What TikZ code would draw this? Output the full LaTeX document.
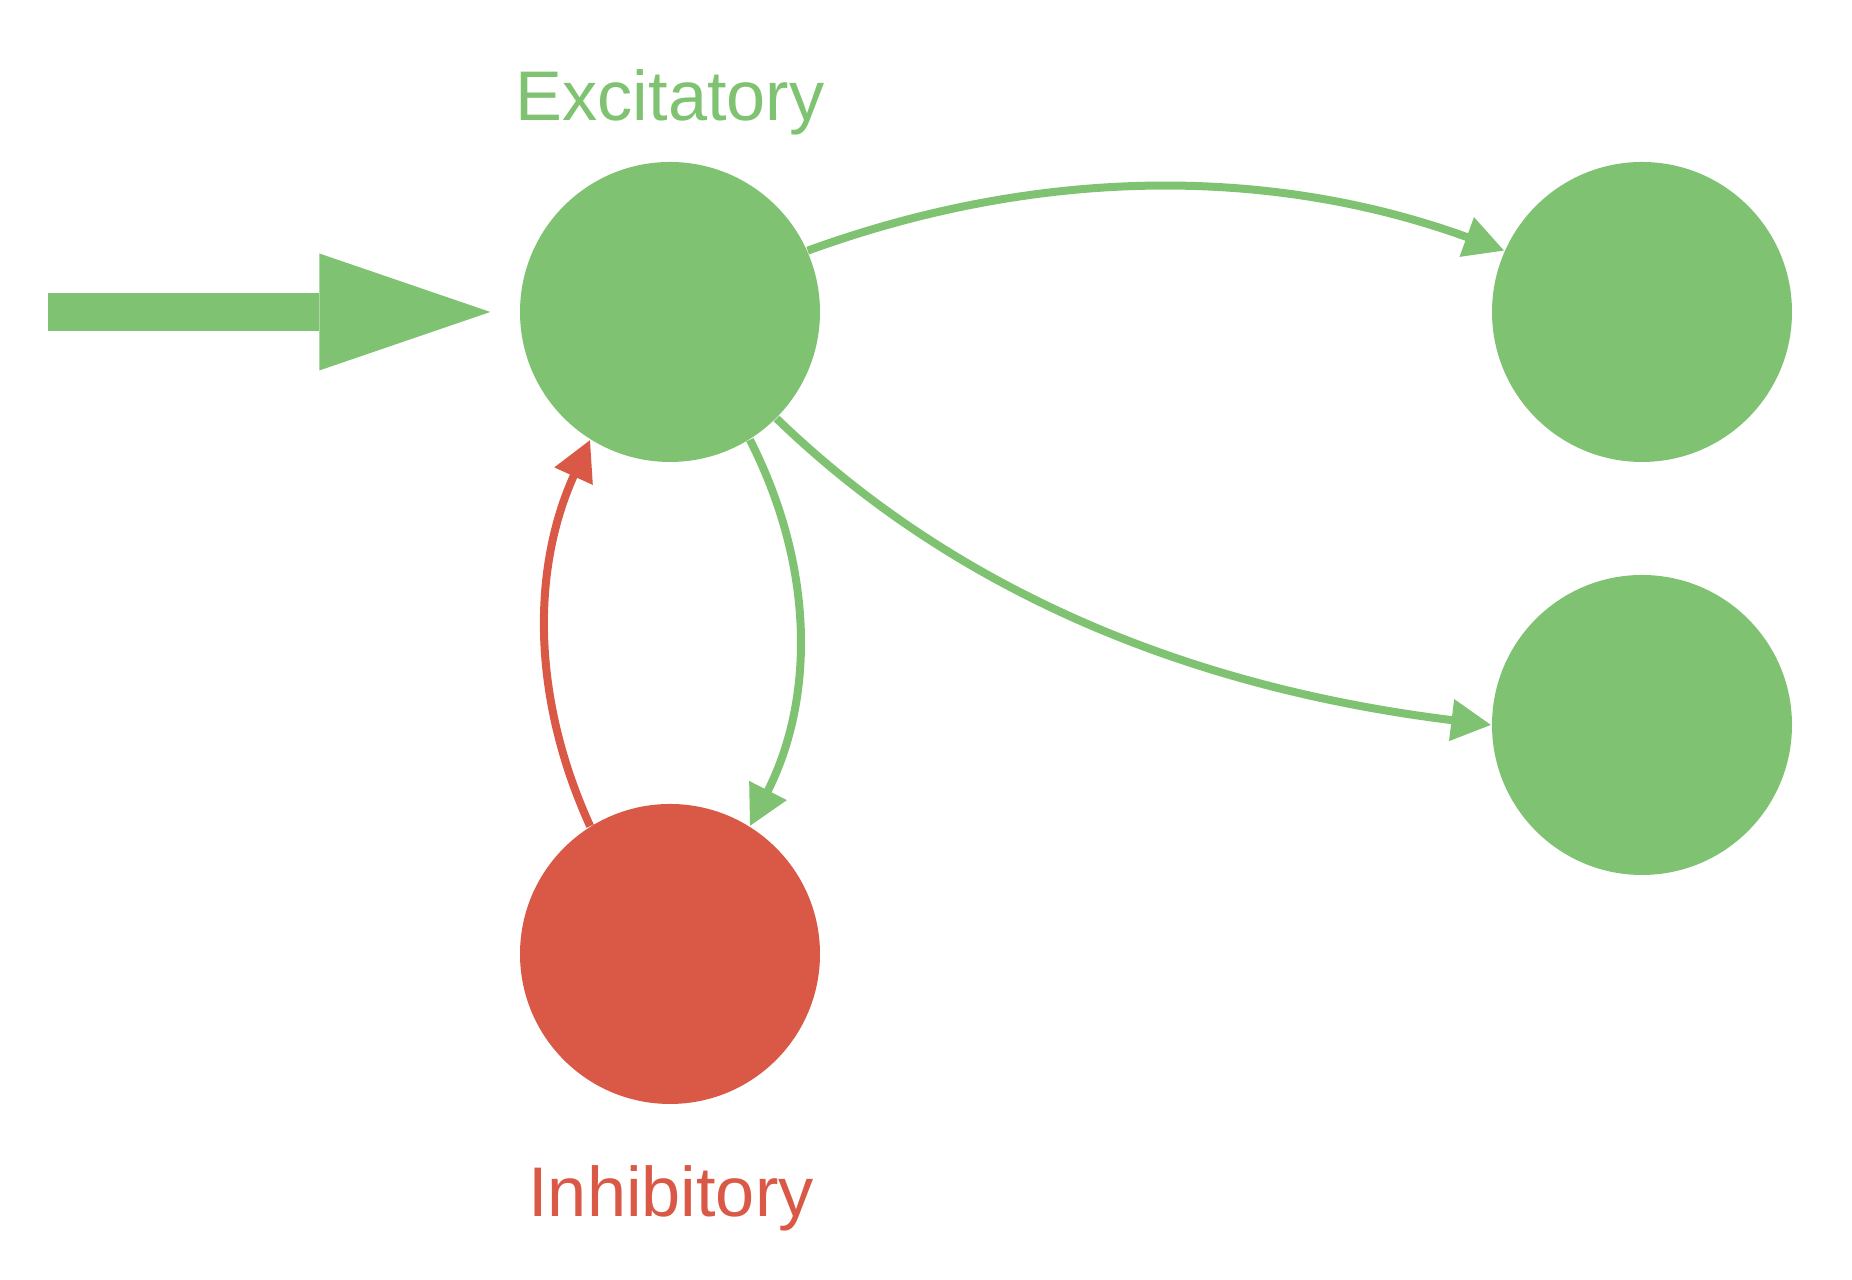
\documentclass[tikz,border=0pt]{standalone}
\usepackage{fontspec}
\setmainfont{Liberation Sans}
\usetikzlibrary{arrows.meta}

\definecolor{excgreen}{RGB}{127,195,114}
\definecolor{inhred}{RGB}{217,89,70}

\begin{document}
\begin{tikzpicture}[
	neuron/.style={circle, minimum size=3cm, inner sep=0pt},
	link/.style={line width=0.08cm, -{Triangle[length=0.4cm, width=0.4cm]}},
	tag/.style={anchor=base, font=\fontsize{20}{24}\selectfont},
]

% frame %{{{1

	\useasboundingbox (0,0) rectangle (18.52,12.80);

% neurons %{{{1

	\node[neuron, fill=excgreen] (exc)  at (6.70,9.68)  {};
	\node[neuron, fill=inhred]   (inh)  at (6.70,3.26)  {};
	\node[neuron, fill=excgreen] (outa) at (16.42,9.68) {};
	\node[neuron, fill=excgreen] (outb) at (16.42,5.55) {};

	\coordinate (src) at (0.48,9.68);

% labels %{{{1

	\node[tag, text=excgreen] (exclabel) at (6.70,11.59) {Excitatory};
	\node[tag, text=inhred]   (inhlabel) at (6.71,0.63)  {Inhibitory};

% input %{{{1

	\draw[excgreen, line width=0.374cm, shorten >=0.29cm,
		-{Triangle[length=1.71cm, width=1.17cm, line width=0pt]}] (src) -- (exc.west);

% connections %{{{1

	\draw[link, excgreen] (exc.24) to[out=20, in=160, looseness=0.91] (outa.156);
	\draw[link, excgreen] (exc.-45) to[out=-44, in=173, looseness=0.9] (outb.west);

	\draw[link, excgreen] (exc.-58) to[out=-63, in=63, looseness=0.95] (inh.58);
	\draw[link, inhred]   (inh.122) to[out=114.5, in=245.5, looseness=0.94] (exc.-122);

% closing %{{{1

\end{tikzpicture}
\end{document}
